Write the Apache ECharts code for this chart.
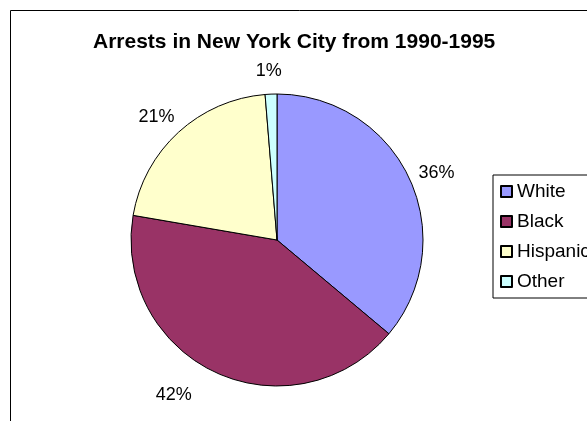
<!DOCTYPE html>
<html>
<head>
<meta charset="utf-8">
<script src="https://cdn.jsdelivr.net/npm/echarts@6/dist/echarts.min.js"></script>
<style>
  html, body { margin: 0; padding: 0; background: #fff; }
  #main { width: 587px; height: 421px; }
</style>
</head>
<body>
<div id="main"></div>
<script>
// share of arrests by race, percent of total
const categories = ["White", "Black", "Hispanic", "Other"];
const shares = [36.1, 41.6, 21.0, 1.3];
const colors = ["#9999FF", "#993366", "#FFFFCC", "#CCFFFF"];

const font = "Liberation Sans, Arial, sans-serif";
const center = [277, 240];

const chart = echarts.init(document.getElementById("main"));

// the slices
const sliceData = categories.map((name, i) => ({ name: name, value: shares[i] }));
// same data again on an invisible ring, only to place the % labels like excel does
const labelData = categories.map((name, i) => {
  const item = { name: name, value: shares[i] };
  if (name === "Black") item.label = { offset: [-29, -6] };
  return item;
});

chart.setOption({
  backgroundColor: "#fff",
  animation: false,
  color: colors,
  title: {
    text: "Arrests in New York City from 1990-1995",
    left: 93,
    top: 32,
    padding: 0,
    textStyle: { fontFamily: font, fontSize: 21, fontWeight: "bold", color: "#000" }
  },
  legend: {
    orient: "vertical",
    left: 493,
    top: 175,
    padding: [7, 10, 7, 7],
    itemWidth: 11,
    itemHeight: 11,
    itemGap: 11,
    icon: "rect",
    borderColor: "#000",
    borderWidth: 1,
    data: categories,
    textStyle: { fontFamily: font, fontSize: 19, color: "#000" }
  },
  graphic: [
    {
      type: "rect",
      shape: { x: 10.5, y: 10.5, width: 700, height: 500 },
      style: { fill: "none", stroke: "#000", lineWidth: 1 },
      silent: true,
      z: -1
    }
  ],
  series: [
    {
      type: "pie",
      center: center,
      radius: 146,
      startAngle: 90,
      clockwise: true,
      avoidLabelOverlap: false,
      silent: true,
      label: { show: false },
      labelLine: { show: false },
      itemStyle: { borderColor: "#000", borderWidth: 1 },
      data: sliceData
    },
    {
      type: "pie",
      center: center,
      radius: [168, 180],
      startAngle: 90,
      clockwise: true,
      avoidLabelOverlap: false,
      silent: true,
      legendHoverLink: false,
      percentPrecision: 0,
      itemStyle: { color: "transparent", borderWidth: 0 },
      label: {
        show: true,
        position: "inside",
        formatter: "{d}%",
        offset: [-1, 8],
        fontFamily: font,
        fontSize: 18,
        color: "#000"
      },
      labelLine: { show: false },
      data: labelData
    }
  ]
});
</script>
</body>
</html>
